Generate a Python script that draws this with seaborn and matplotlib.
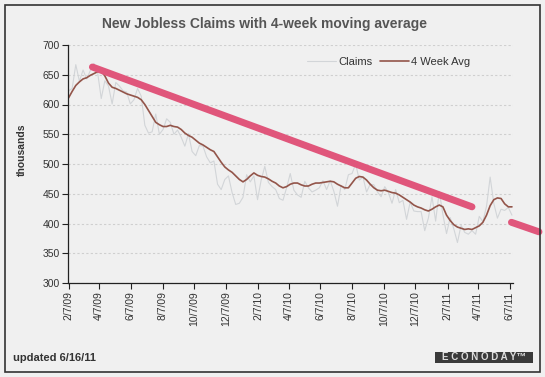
import pandas as pd
import matplotlib.pyplot as plt
import seaborn as sns
from matplotlib.patches import Rectangle

# weekly data, 2/7/09 .. 6/11/11 (thousands)
weeks = pd.date_range("2009-02-07", "2011-06-11", freq="7D")

claims = [
    # 2009
    623, 627, 667, 639, 658, 643, 657, 669, 654, 610, 640, 631,
    601, 637, 631, 623, 621, 601, 608, 627, 614, 565, 552, 554,
    584, 550, 558, 576, 570, 550, 557, 545, 530, 551, 521, 514,
    531, 530, 512, 502, 505, 466, 457, 474, 480, 452, 432,
    # 2010
    434, 444, 482, 470, 480, 440, 473, 496, 469, 462, 457, 442,
    439, 460, 484, 456, 448, 444, 471, 460, 453, 456, 460, 472,
    457, 472, 454, 429, 464, 457, 482, 484, 500, 473, 478, 453,
    466, 465, 453, 445, 462, 452, 434, 457, 435, 439, 407, 436,
    421, 420, 420, 388,
    # 2011
    409, 445, 404, 454, 415, 383, 410, 391, 368, 397, 385, 382,
    388, 382, 412, 403, 429, 478, 434, 409, 424, 422, 427, 414,
]

avg_4wk = [
    # 2009
    611, 622, 632, 638, 643, 645, 649, 652, 655, 656, 648, 636,
    629, 627, 624, 621, 618, 616, 614, 612, 608, 600, 590, 580,
    570, 566, 563, 563, 565, 563, 562, 558, 552, 548, 545, 540,
    535, 532, 528, 524, 521, 512, 503, 495, 490, 486, 480,
    # 2010
    474, 470, 474, 480, 485, 481, 479, 478, 475, 471, 468, 463,
    460, 462, 466, 468, 468, 465, 463, 463, 466, 468, 468, 469,
    470, 471, 470, 466, 463, 460, 460, 468, 476, 479, 478, 473,
    466, 460, 456, 455, 456, 454, 452, 451, 448, 444, 440, 436,
    431, 428, 426, 423,
    # 2011
    421, 424, 428, 431, 428, 414, 405, 398, 394, 392, 390, 391,
    390, 393, 396, 402, 414, 430, 440, 443, 442, 433, 428, 428,
]

# hand-drawn pink trend strokes
trend1_dates = pd.to_datetime(["2009-03-25", "2011-03-26"])
trend1_vals = [663, 428]
trend2_dates = pd.to_datetime(["2011-06-10", "2011-08-02"])
trend2_vals = [402, 386]

tick_dates = pd.date_range("2009-02-07", periods=15, freq=pd.DateOffset(months=2))
tick_labels = [f"{d.month}/{d.day}/{d:%y}" for d in tick_dates]

sns.set_theme(style="ticks")
plt.rcParams["font.family"] = ["Liberation Sans", "DejaVu Sans"]

bg = "#f0f0f0"
W, H = 545, 377
fig = plt.figure(figsize=(W / 100, H / 100), dpi=100, facecolor=bg)
ax = fig.add_axes([68 / W, 1 - 283 / H, (513 - 68) / W, (283 - 45) / H])
ax.set_facecolor(bg)

df = pd.DataFrame({"week": weeks, "Claims": claims, "4 Week Avg": avg_4wk})
sns.lineplot(data=df, x="week", y="Claims", ax=ax, color="#d2d5d8", lw=0.8, label="Claims")
sns.lineplot(data=df, x="week", y="4 Week Avg", ax=ax, color="#93554a", lw=1.2, label="4 Week Avg")

ax.plot(trend1_dates, trend1_vals, color="#e0567b", lw=5, solid_capstyle="round", zorder=5)
ax.plot(trend2_dates, trend2_vals, color="#e0567b", lw=5, solid_capstyle="round", zorder=5, clip_on=False)

ax.set_ylim(300, 700)
ax.set_yticks(range(300, 701, 50))
ax.set_xlim(pd.Timestamp("2009-02-06"), pd.Timestamp("2011-06-13"))
ax.set_xticks(tick_dates)
ax.set_xticklabels(tick_labels, rotation=90)
ax.tick_params(axis="both", labelsize=7.5, labelcolor="#333333", length=4, width=0.8, color="#222222", pad=2)
ax.yaxis.grid(True, linestyle=(0, (2, 2)), color="#cfcfcf", lw=0.8)
ax.set_axisbelow(True)
sns.despine(ax=ax)
for s in ["left", "bottom"]:
    ax.spines[s].set_color("#222222")
    ax.spines[s].set_linewidth(0.9)
ax.set_xlabel("")
ax.set_ylabel("")

ax.legend(ncol=2, frameon=False, loc="center", bbox_to_anchor=(0.72, 0.93),
          fontsize=8, handlelength=2.6, handletextpad=0.2, columnspacing=0.7,
          labelcolor="#333333")

fig.text(265 / W, 1 - 24 / H, "New Jobless Claims with 4-week moving average",
         ha="center", va="center", fontsize=10, fontweight="bold", color="#555555")
fig.text(22 / W, 1 - 150 / H, "thousands", rotation=90, ha="center", va="center",
         fontsize=7.5, fontweight="bold", color="#333333")
fig.text(13 / W, 1 - 358 / H, "updated 6/16/11", ha="left", va="center",
         fontsize=8, fontweight="bold", color="#333333")

# frame and logo
fig.patches.append(Rectangle((5 / W, 1 - 372 / H), (540 - 5) / W, (372 - 5) / H,
                             transform=fig.transFigure, fill=False, edgecolor="#333333", lw=1.2))
fig.patches.append(Rectangle((435 / W, 1 - 363 / H), (533 - 435) / W, 11 / H,
                             transform=fig.transFigure, facecolor="#3a3a3a", edgecolor="none"))
fig.text(484 / W, 1 - 357.5 / H, "E C O N O D A Y™", ha="center", va="center",
         fontsize=7, fontweight="bold", color="#dddddd")

fig.savefig("out.png", dpi=100, facecolor=bg)
